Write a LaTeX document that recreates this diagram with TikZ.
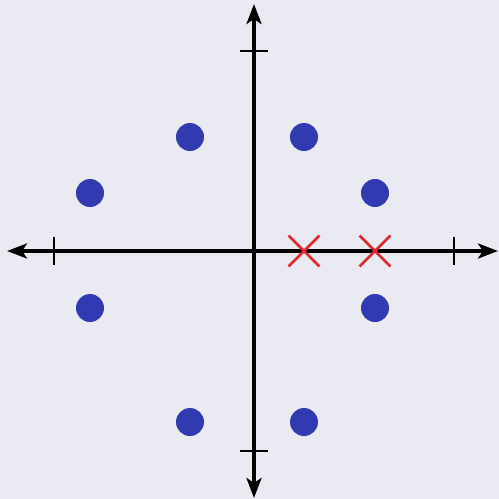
\documentclass[tikz,border=0pt]{standalone}
\usetikzlibrary{arrows.meta,shapes.misc}
\definecolor{bgc}{RGB}{234,234,242}
\definecolor{dotc}{RGB}{49,58,176}
\definecolor{crossc}{RGB}{222,40,46}
\begin{document}
\begin{tikzpicture}[x=1pt,y=-1pt,
  axis/.style={line width=3.6pt,-{Stealth[length=20pt,width=15pt,inset=5pt]}},
  tick/.style={line width=1.6pt},
  pole/.style={circle,fill=dotc,minimum size=28pt,inner sep=0pt},
  zero/.style={draw=crossc,line width=2.8pt,cross out,minimum size=28pt,inner sep=0pt}]
\useasboundingbox[fill=bgc] (0,0) rectangle (499,499);
\coordinate (O) at (254,251);
\coordinate (L) at (7,251);
\coordinate (R) at (498,251);
\coordinate (T) at (254,4);
\coordinate (B) at (254,498);
\draw[axis] (O) -- (R);
\draw[axis] (O) -- (L);
\draw[axis] (O) -- (T);
\draw[axis] (O) -- (B);
\coordinate (tl) at (54,251);
\coordinate (tr) at (454,251);
\coordinate (tt) at (254,51);
\coordinate (tb) at (254,451);
\draw[tick] ([yshift=-14pt]tl) -- ([yshift=14pt]tl);
\draw[tick] ([yshift=-14pt]tr) -- ([yshift=14pt]tr);
\draw[tick] ([xshift=-14pt]tt) -- ([xshift=14pt]tt);
\draw[tick] ([xshift=-14pt]tb) -- ([xshift=14pt]tb);
\node[pole] (p1) at (190,137) {};
\node[pole] (p2) at (304,137) {};
\node[pole] (p3) at (90,193) {};
\node[pole] (p4) at (375,193) {};
\node[pole] (p5) at (90,308) {};
\node[pole] (p6) at (375,308) {};
\node[pole] (p7) at (190,422) {};
\node[pole] (p8) at (304,422) {};
\node[zero] (z1) at (304,251) {};
\node[zero] (z2) at (375,251) {};
\end{tikzpicture}
\end{document}
